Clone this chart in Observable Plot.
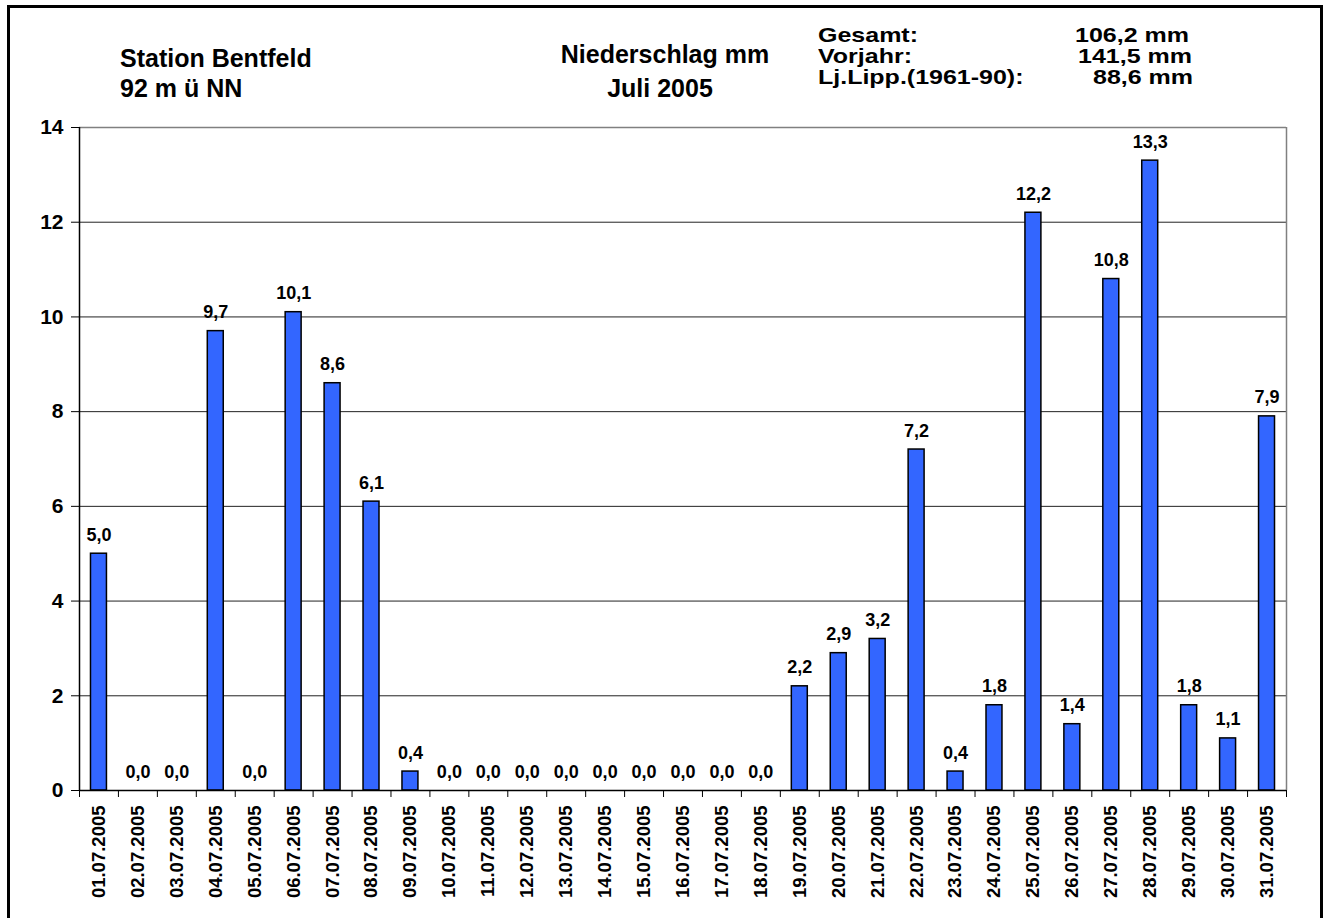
<!DOCTYPE html>
<html>
<head>
<meta charset="utf-8">
<script src="https://cdn.jsdelivr.net/npm/d3@7"></script>
<script src="https://cdn.jsdelivr.net/npm/@observablehq/plot@0.6"></script>
<style>
  html, body { margin: 0; padding: 0; background: #fff; overflow: hidden; }
  #wrap { position: relative; width: 1330px; height: 918px; font-family: "Liberation Sans", Arial, sans-serif; font-weight: bold; color: #000; }
  #border { position: absolute; left: 7px; top: 5px; width: 1316px; height: 1000px; border: 3px solid #000; box-sizing: border-box; }
  .t { position: absolute; line-height: 1; white-space: nowrap; }
  .r { font-size: 21px; transform-origin: 0 0; transform: scaleX(1.19); }
  #chart { position: absolute; left: 0; top: 0; }
  #chart svg text { font-weight: bold; }
</style>
</head>
<body>
<div id="wrap">
  <div id="border"></div>
  <div class="t" style="left:120px; top:46px; font-size:25px;">Station Bentfeld</div>
  <div class="t" style="left:120px; top:76px; font-size:25px;">92 m ü NN</div>
  <div class="t" style="left:665px; top:42px; font-size:25px; transform:translateX(-50%);">Niederschlag mm</div>
  <div class="t" style="left:660px; top:76px; font-size:25px; transform:translateX(-50%);">Juli 2005</div>
  <div class="t r" style="left:818px; top:24px;">Gesamt:</div>
  <div class="t r" style="left:818px; top:45px;">Vorjahr:</div>
  <div class="t r" style="left:818px; top:66px;">Lj.Lipp.(1961-90):</div>
  <div class="t r" style="left:1075px; top:24px;">106,2 mm</div>
  <div class="t r" style="left:1078px; top:45px;">141,5 mm</div>
  <div class="t r" style="left:1093px; top:66px;">88,6 mm</div>
  <div id="chart"></div>
</div>
<script>
const dates = [
  "01.07.2005","02.07.2005","03.07.2005","04.07.2005","05.07.2005","06.07.2005","07.07.2005",
  "08.07.2005","09.07.2005","10.07.2005","11.07.2005","12.07.2005","13.07.2005","14.07.2005",
  "15.07.2005","16.07.2005","17.07.2005","18.07.2005","19.07.2005","20.07.2005","21.07.2005",
  "22.07.2005","23.07.2005","24.07.2005","25.07.2005","26.07.2005","27.07.2005","28.07.2005",
  "29.07.2005","30.07.2005","31.07.2005"
];
const rain = [
  5.0, 0.0, 0.0, 9.7, 0.0, 10.1, 8.6,
  6.1, 0.4, 0.0, 0.0, 0.0, 0.0, 0.0,
  0.0, 0.0, 0.0, 0.0, 2.2, 2.9, 3.2,
  7.2, 0.4, 1.8, 12.2, 1.4, 10.8, 13.3,
  1.8, 1.1, 7.9
];
const yTicks = [0, 2, 4, 6, 8, 10, 12, 14];

const data = dates.map((d, i) => ({date: d, value: rain[i]}));
const fmt = v => v.toFixed(1).replace(".", ",");

const W = 1330, H = 918;
const mL = 79, mR = 44, mT = 127, mB = 128;
const step = (W - mL - mR) / dates.length;
const FONT = "Liberation Sans, Arial, sans-serif";

const chart = Plot.plot({
  width: W,
  height: H,
  marginLeft: mL,
  marginRight: mR,
  marginTop: mT,
  marginBottom: mB,
  style: {fontFamily: FONT, background: "transparent", overflow: "visible", color: "#000"},
  x: {domain: dates, paddingInner: 0.59, paddingOuter: 0.295, round: false, axis: null, label: null},
  y: {domain: [0, 14], axis: null, label: null},
  marks: [
    Plot.ruleY(yTicks.filter(d => d > 0 && d < 14), {stroke: "#222", strokeWidth: 1}),
    Plot.ruleY([14], {stroke: "#808080", strokeWidth: 1.5}),
    Plot.ruleX([dates[dates.length - 1]], {dx: step / 2, y1: 0, y2: 14, stroke: "#808080", strokeWidth: 1.5}),
    Plot.barY(data.filter(d => d.value > 0), {x: "date", y: "value", fill: "#3366FF", stroke: "#000", strokeWidth: 1.5}),
    Plot.ruleY([0], {stroke: "#000", strokeWidth: 1.5}),
    Plot.ruleX([dates[0]], {dx: -step / 2, y1: 0, y2: 14, stroke: "#000", strokeWidth: 1.5}),
    Plot.axisY({ticks: yTicks, tickSize: 8, tickPadding: 8, fontSize: 21, fontWeight: "bold", tickFormat: d => String(d), stroke: "#000", label: null}),
    Plot.axisX({tickSize: 7, dx: -step / 2, tickFormat: () => "", stroke: "#000", label: null}),
    Plot.axisX({ticks: [dates[dates.length - 1]], tickSize: 7, dx: step / 2, tickFormat: () => "", stroke: "#000", label: null}),
    Plot.axisX({tickSize: 0, tickPadding: 15, tickRotate: -90, fontSize: 18.5, fontWeight: "bold", label: null}),
    Plot.text(data, {x: "date", y: "value", text: d => fmt(d.value), dy: -13, lineAnchor: "bottom", fontSize: 18, fontWeight: "bold", fill: "#000"})
  ]
});
document.getElementById("chart").appendChild(chart);
</script>
</body>
</html>
